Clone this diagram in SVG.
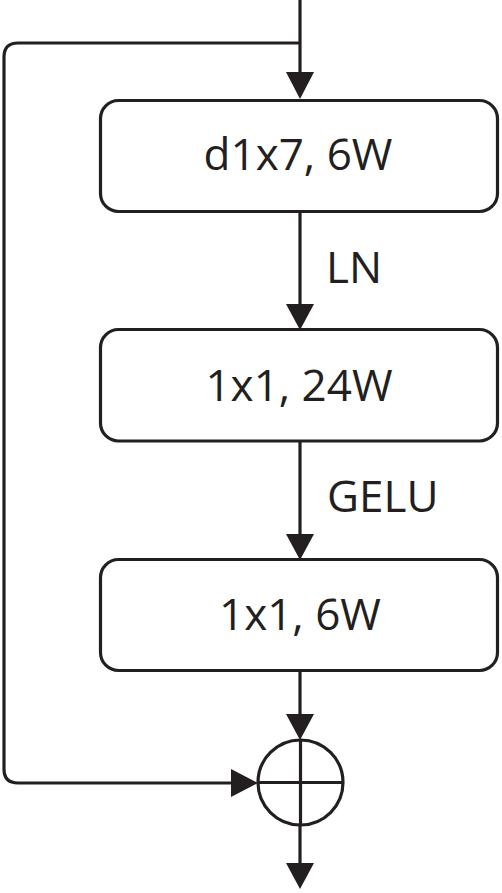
<svg xmlns="http://www.w3.org/2000/svg" width="502" height="893" viewBox="0 0 502 893">
  <style>
    .box { fill: #ffffff; stroke: #231f20; stroke-width: 3.2; }
    .ln { fill: none; stroke: #231f20; stroke-width: 3.2; }
    .head { fill: #231f20; stroke: none; }
    .t { font-family: "Open Sans", "Noto Sans", "DejaVu Sans", sans-serif; font-size: 44px; fill: #231f20; }
    .c { text-anchor: middle; }
  </style>
  <rect width="502" height="893" fill="#ffffff"/>
  <g id="connectors">
    <line class="ln" x1="300" y1="0" x2="300" y2="75"/>
    <polygon class="head" points="286,72 314,72 300,99"/>
    <path class="ln" d="M300,43 H18 Q4,43 4,57 V769 Q4,783 18,783 H234"/>
    <polygon class="head" points="231,769 231,797 258,783"/>
    <line class="ln" x1="300" y1="212" x2="300" y2="306"/>
    <polygon class="head" points="286,304 314,304 300,330"/>
    <line class="ln" x1="300" y1="441" x2="300" y2="537"/>
    <polygon class="head" points="286,534 314,534 300,560"/>
    <line class="ln" x1="300" y1="671" x2="300" y2="717"/>
    <polygon class="head" points="286,714 314,714 300,740"/>
    <line class="ln" x1="300" y1="825" x2="300" y2="866"/>
    <polygon class="head" points="286,863 314,863 300,889"/>
  </g>
  <g id="node-d1x7">
    <rect class="box" x="100.5" y="100.5" width="397" height="111" rx="18"/>
    <text class="t c" x="298" y="170">d1x7, 6W</text>
  </g>
  <g id="label-ln">
    <text class="t" x="326" y="283">LN</text>
  </g>
  <g id="node-1x1-24w">
    <rect class="box" x="100.5" y="329.5" width="397" height="111.5" rx="18"/>
    <text class="t c" x="299" y="401">1x1, 24W</text>
  </g>
  <g id="label-gelu">
    <text class="t" x="327" y="512">GELU</text>
  </g>
  <g id="node-1x1-6w">
    <rect class="box" x="100.5" y="559.5" width="397" height="111" rx="18"/>
    <text class="t c" x="300" y="630">1x1, 6W</text>
  </g>
  <g id="node-add">
    <circle class="ln" cx="300.5" cy="782.5" r="42.5"/>
    <line class="ln" x1="258" y1="782.5" x2="343" y2="782.5"/>
    <line class="ln" x1="300.5" y1="740" x2="300.5" y2="825"/>
  </g>
</svg>
